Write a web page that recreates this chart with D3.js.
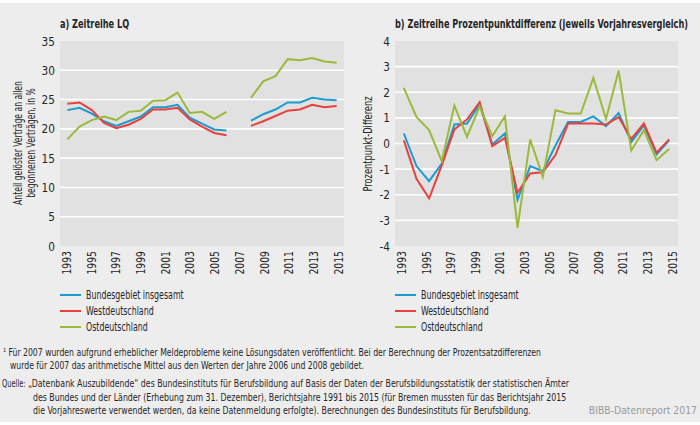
<!DOCTYPE html>
<html><head><meta charset="utf-8">
<script src="https://cdn.jsdelivr.net/npm/d3@7"></script>
<style>
html,body{margin:0;padding:0;background:#fff;}
text{font-family:"DejaVu Sans Condensed","DejaVu Sans",sans-serif;fill:#262626;}
</style></head>
<body>
<svg id="c" width="700" height="425"></svg>
<script>
// ---- data ----
const years = d3.range(1993, 2016).map(String);            // 1993..2015
const tickYears = years.filter(y => +y % 2 === 1);          // odd years as labels
const seriesNames = ["Bundesgebiet insgesamt", "Westdeutschland", "Ostdeutschland"];
const seriesColors = ["#1b9bd1", "#e8413d", "#9aba3b"];

// a) Zeitreihe LQ (no data for 2007)
const lqBund = [23.2,23.6,22.6,21.3,20.5,21.3,22.1,23.7,23.7,24.1,21.9,20.9,19.9,19.7,null,21.4,22.5,23.3,24.5,24.5,25.3,25.0,24.9];
const lqWest = [24.3,24.5,23.2,21.0,20.1,20.7,21.7,23.3,23.3,23.6,21.6,20.4,19.3,18.9,null,20.5,21.3,22.2,23.1,23.3,24.1,23.7,23.9];
const lqOst  = [18.2,20.4,21.5,22.1,21.5,22.9,23.1,24.8,24.9,26.2,22.7,22.9,21.7,22.9,null,25.3,28.1,29.0,31.9,31.7,32.1,31.5,31.3];
const lqTicks = [0,5,10,15,20,25,30,35];

// b) Prozentpunktdifferenz (22 values)
const diffYears = d3.range(1994, 2016).map(String);
const ppBund = [0.39,-0.88,-1.47,-0.78,0.74,0.78,1.52,-0.04,0.39,-2.20,-0.88,-1.08,-0.08,0.84,0.84,1.06,0.68,1.19,0.06,0.71,-0.43,0.12];
const ppWest = [0.12,-1.38,-2.14,-0.85,0.55,0.94,1.61,-0.10,0.22,-1.92,-1.17,-1.12,-0.45,0.78,0.78,0.78,0.74,1.03,0.18,0.78,-0.36,0.16];
const ppOst  = [2.17,1.04,0.52,-0.69,1.48,0.26,1.45,0.29,1.06,-3.29,0.16,-1.30,1.30,1.17,1.17,2.56,0.96,2.84,-0.27,0.52,-0.65,-0.21];
const ppTicks = [-4,-3,-2,-1,0,1,2,3,4];

const titleA = "a) Zeitreihe LQ";
const titleB = "b) Zeitreihe Prozentpunktdifferenz (jeweils Vorjahresvergleich)";
const yTitleA = ["Anteil gelöster Verträge an allen", "begonnenen Verträgen, in %"];
const yTitleB = "Prozentpunkt-Differenz";
const footnote = ["\u00B9 Für 2007 wurden aufgrund erheblicher Meldeprobleme keine Lösungsdaten veröffentlicht. Bei der Berechnung der Prozentsatzdifferenzen",
                  "wurde für 2007 das arithmetische Mittel aus den Werten der Jahre 2006 und 2008 gebildet."];
const sourceLabel = "Quelle:";
const source = ["\u201EDatenbank Auszubildende\u201C des Bundesinstituts für Berufsbildung auf Basis der Daten der Berufsbildungsstatistik der statistischen Ämter",
                "des Bundes und der Länder (Erhebung zum 31. Dezember), Berichtsjahre 1991 bis 2015 (für Bremen mussten für das Berichtsjahr 2015",
                "die Vorjahreswerte verwendet werden, da keine Datenmeldung erfolgte). Berechnungen des Bundesinstituts für Berufsbildung."];
const credit = "BIBB-Datenreport 2017";

// text helper: the original typeface is very narrow, so glyphs are squeezed horizontally
function txt(parent, x, y, s, o = {}) {
  const t = parent.append("text")
    .attr("transform", `translate(${x},${y})` + (o.rot ? ` rotate(${o.rot})` : "") + ` scale(${o.k || 1},1)`)
    .attr("text-anchor", o.anchor || "start")
    .style("font-size", (o.size || 12) + "px")
    .text(s);
  if (o.dy) t.attr("dy", o.dy);
  if (o.weight) t.style("font-weight", o.weight);
  if (o.fill) t.style("fill", o.fill);
  return t;
}

// ---- drawing ----
const svg = d3.select("#c");
svg.append("rect").attr("x",0).attr("y",3).attr("width",700).attr("height",419).attr("fill","#ededed");

function panel(opt){
  const g = svg.append("g");
  const {x0,x1,y0,y1} = opt;
  g.append("rect").attr("x",x0).attr("y",y0).attr("width",x1-x0).attr("height",y1-y0).attr("fill","#e1e1e1");
  const y = d3.scaleLinear().domain(opt.domain).range([y1,y0]);
  const xAxis = d3.scalePoint().domain(years).range([x0,x1]).padding(0.5);
  const xData = d3.scalePoint().domain(opt.cats).range([x0,x1]).padding(opt.pad);
  // grid
  g.selectAll("line.grid").data(opt.ticks.filter(t => t!==opt.domain[0] && t!==opt.domain[1]))
    .join("line").attr("x1",x0).attr("x2",x1).attr("y1",d=>y(d)).attr("y2",d=>y(d))
    .attr("stroke","#fff").attr("stroke-width",1.6);
  // y tick labels
  opt.ticks.forEach(t => txt(g, x0-5, y(t), t, {size:13, k:0.9, anchor:"end", dy:"0.35em"}));
  // x tick labels
  tickYears.forEach(t => txt(g, xAxis(t)+0.5, y1+5, t, {size:12, k:0.86, rot:-90, anchor:"end", dy:"0.36em"}));
  // lines
  const line = d3.line().defined(d=>d.v!=null).x(d=>xData(d.c)).y(d=>y(d.v));
  opt.series.forEach((s,i)=>{
    g.append("path").datum(opt.cats.map((c,k)=>({c, v:s[k]})))
      .attr("d",line).attr("fill","none").attr("stroke",seriesColors[i])
      .attr("stroke-width",2).attr("stroke-linejoin","miter");
  });
  // title
  txt(g, x0, y0-13, opt.title, {size:12, k:0.76, weight:"600"});
  // legend
  seriesNames.forEach((n,i)=>{
    const ly = 295 + i*16;
    g.append("line").attr("x1",opt.lx).attr("x2",opt.lx+21).attr("y1",ly).attr("y2",ly)
      .attr("stroke",seriesColors[i]).attr("stroke-width",2);
    txt(g, opt.lx+26, ly, n, {size:12, k:0.73, dy:"0.35em"});
  });
  return g;
}

const gA = panel({x0:60,x1:344,y0:41,y1:246,domain:[0,35],ticks:lqTicks,cats:years,pad:0.6,
  series:[lqBund,lqWest,lqOst],title:titleA,lx:60});
yTitleA.forEach((t,i)=> txt(gA, 22+i*13, 143, t, {size:11.5, k:0.74, rot:-90, anchor:"middle"}));

const gB = panel({x0:395,x1:678,y0:41,y1:246,domain:[-4,4],ticks:ppTicks,cats:diffYears,pad:0.7,
  series:[ppBund,ppWest,ppOst],title:titleB,lx:395});
txt(gB, 372, 144, yTitleB, {size:11.5, k:0.8, rot:-90, anchor:"middle"});

// notes
const notes = svg.append("g");
txt(notes, 3, 356, footnote[0], {size:10, k:0.86});
txt(notes, 10, 369, footnote[1], {size:10, k:0.86});
txt(notes, 2, 387, sourceLabel, {size:10, k:0.74});
source.forEach((t,i)=> txt(notes, i===0 ? 28 : 33, 387+i*13.5, t, {size:10, k:0.87}));
txt(svg, 697, 414, credit, {size:11, k:0.94, anchor:"end", fill:"#9a9a9a"});
</script>
</body></html>
